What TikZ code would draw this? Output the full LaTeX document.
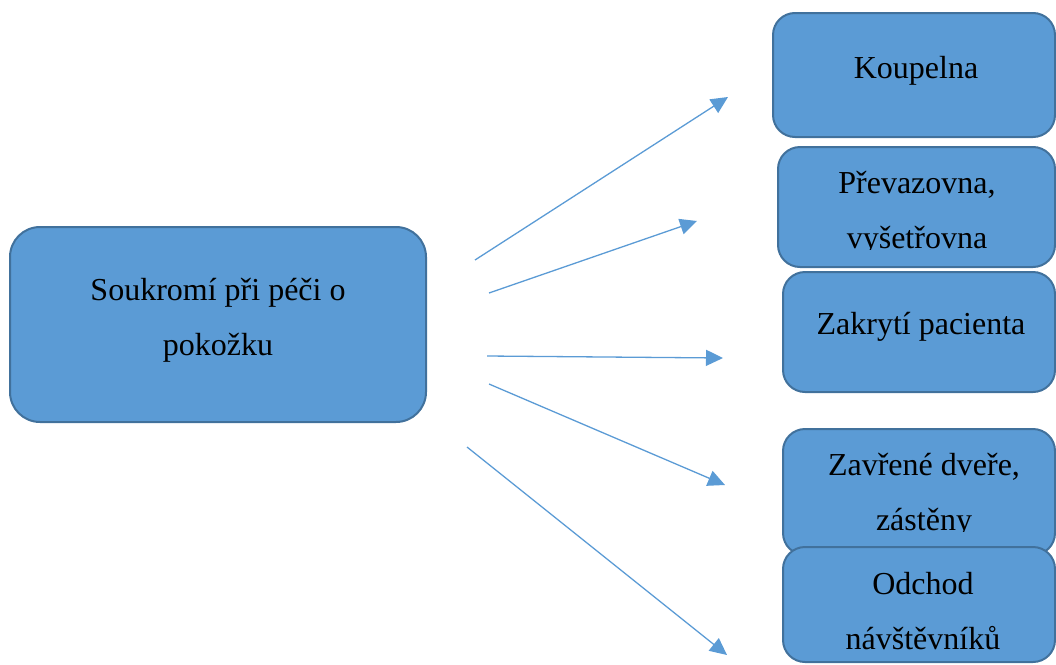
\documentclass[tikz,border=0pt]{standalone}
\usepackage{fontspec}
\setmainfont{Liberation Serif}
\usetikzlibrary{arrows.meta}
\definecolor{boxfill}{HTML}{5B9BD5}
\definecolor{boxline}{HTML}{41719C}
\definecolor{arrowblue}{HTML}{5B9BD5}
\begin{document}
\begin{tikzpicture}[x=1pt,y=-1pt,
  card/.style={draw=boxline, line width=2pt, fill=boxfill, inner sep=0pt,
    rounded corners=#1},
  card/.default=22pt,
  % multi-line texts are placed by the baseline of their last line
  txt/.style={anchor=base, align=center, inner sep=0pt,
    font=\fontsize{32}{55}\selectfont},
  flow/.style={draw=arrowblue, line width=1.3pt,
    -{Triangle[length=17pt,width=16pt]}}]
\useasboundingbox (0,0) rectangle (1056,664);

% central box
\node[card=30pt, minimum width=416pt, minimum height=195pt] (main) at (218,324.5) {};
\node[txt] (maintext) at (218,355) {Soukromí při péči o\\pokožku};

% boxes on the right
\node[card, minimum width=282pt, minimum height=124pt] (bath) at (914,75) {};
\node[txt] (bathtext) at (916,78) {Koupelna};

\node[card, minimum width=277pt, minimum height=120pt] (dress) at (916.5,207) {};
\begin{scope}
  \clip (770,140) rectangle (1056,249.5);
  \node[txt] (dresstext) at (917,248) {Převazovna,\\vyšetřovna};
\end{scope}

\node[card, minimum width=272pt, minimum height=120pt] (cover) at (919,332) {};
\node[txt] (covertext) at (921,334) {Zakrytí pacienta};

\node[card, minimum width=272pt, minimum height=126pt] (door) at (919,492) {};
\begin{scope}
  \clip (770,420) rectangle (1056,531);
  \node[txt] (doortext) at (924,530) {Zavřené dveře,\\zástěny};
\end{scope}

\node[card, minimum width=272pt, minimum height=115pt] (visit) at (919,604.5) {};
\node[txt] (visittext) at (923,649) {Odchod\\návštěvníků};

% free-standing arrows
\coordinate (s1) at (475,260);  \coordinate (e1) at (728,97);
\coordinate (s2) at (489,293);  \coordinate (e2) at (697,221);
\coordinate (s3) at (487,356);  \coordinate (e3) at (723,358);
\coordinate (s4) at (489,384);  \coordinate (e4) at (725,485);
\coordinate (s5) at (467,447);  \coordinate (e5) at (727,655);
\foreach \i in {1,...,5} \draw[flow] (s\i) -- (e\i);
\end{tikzpicture}
\end{document}
